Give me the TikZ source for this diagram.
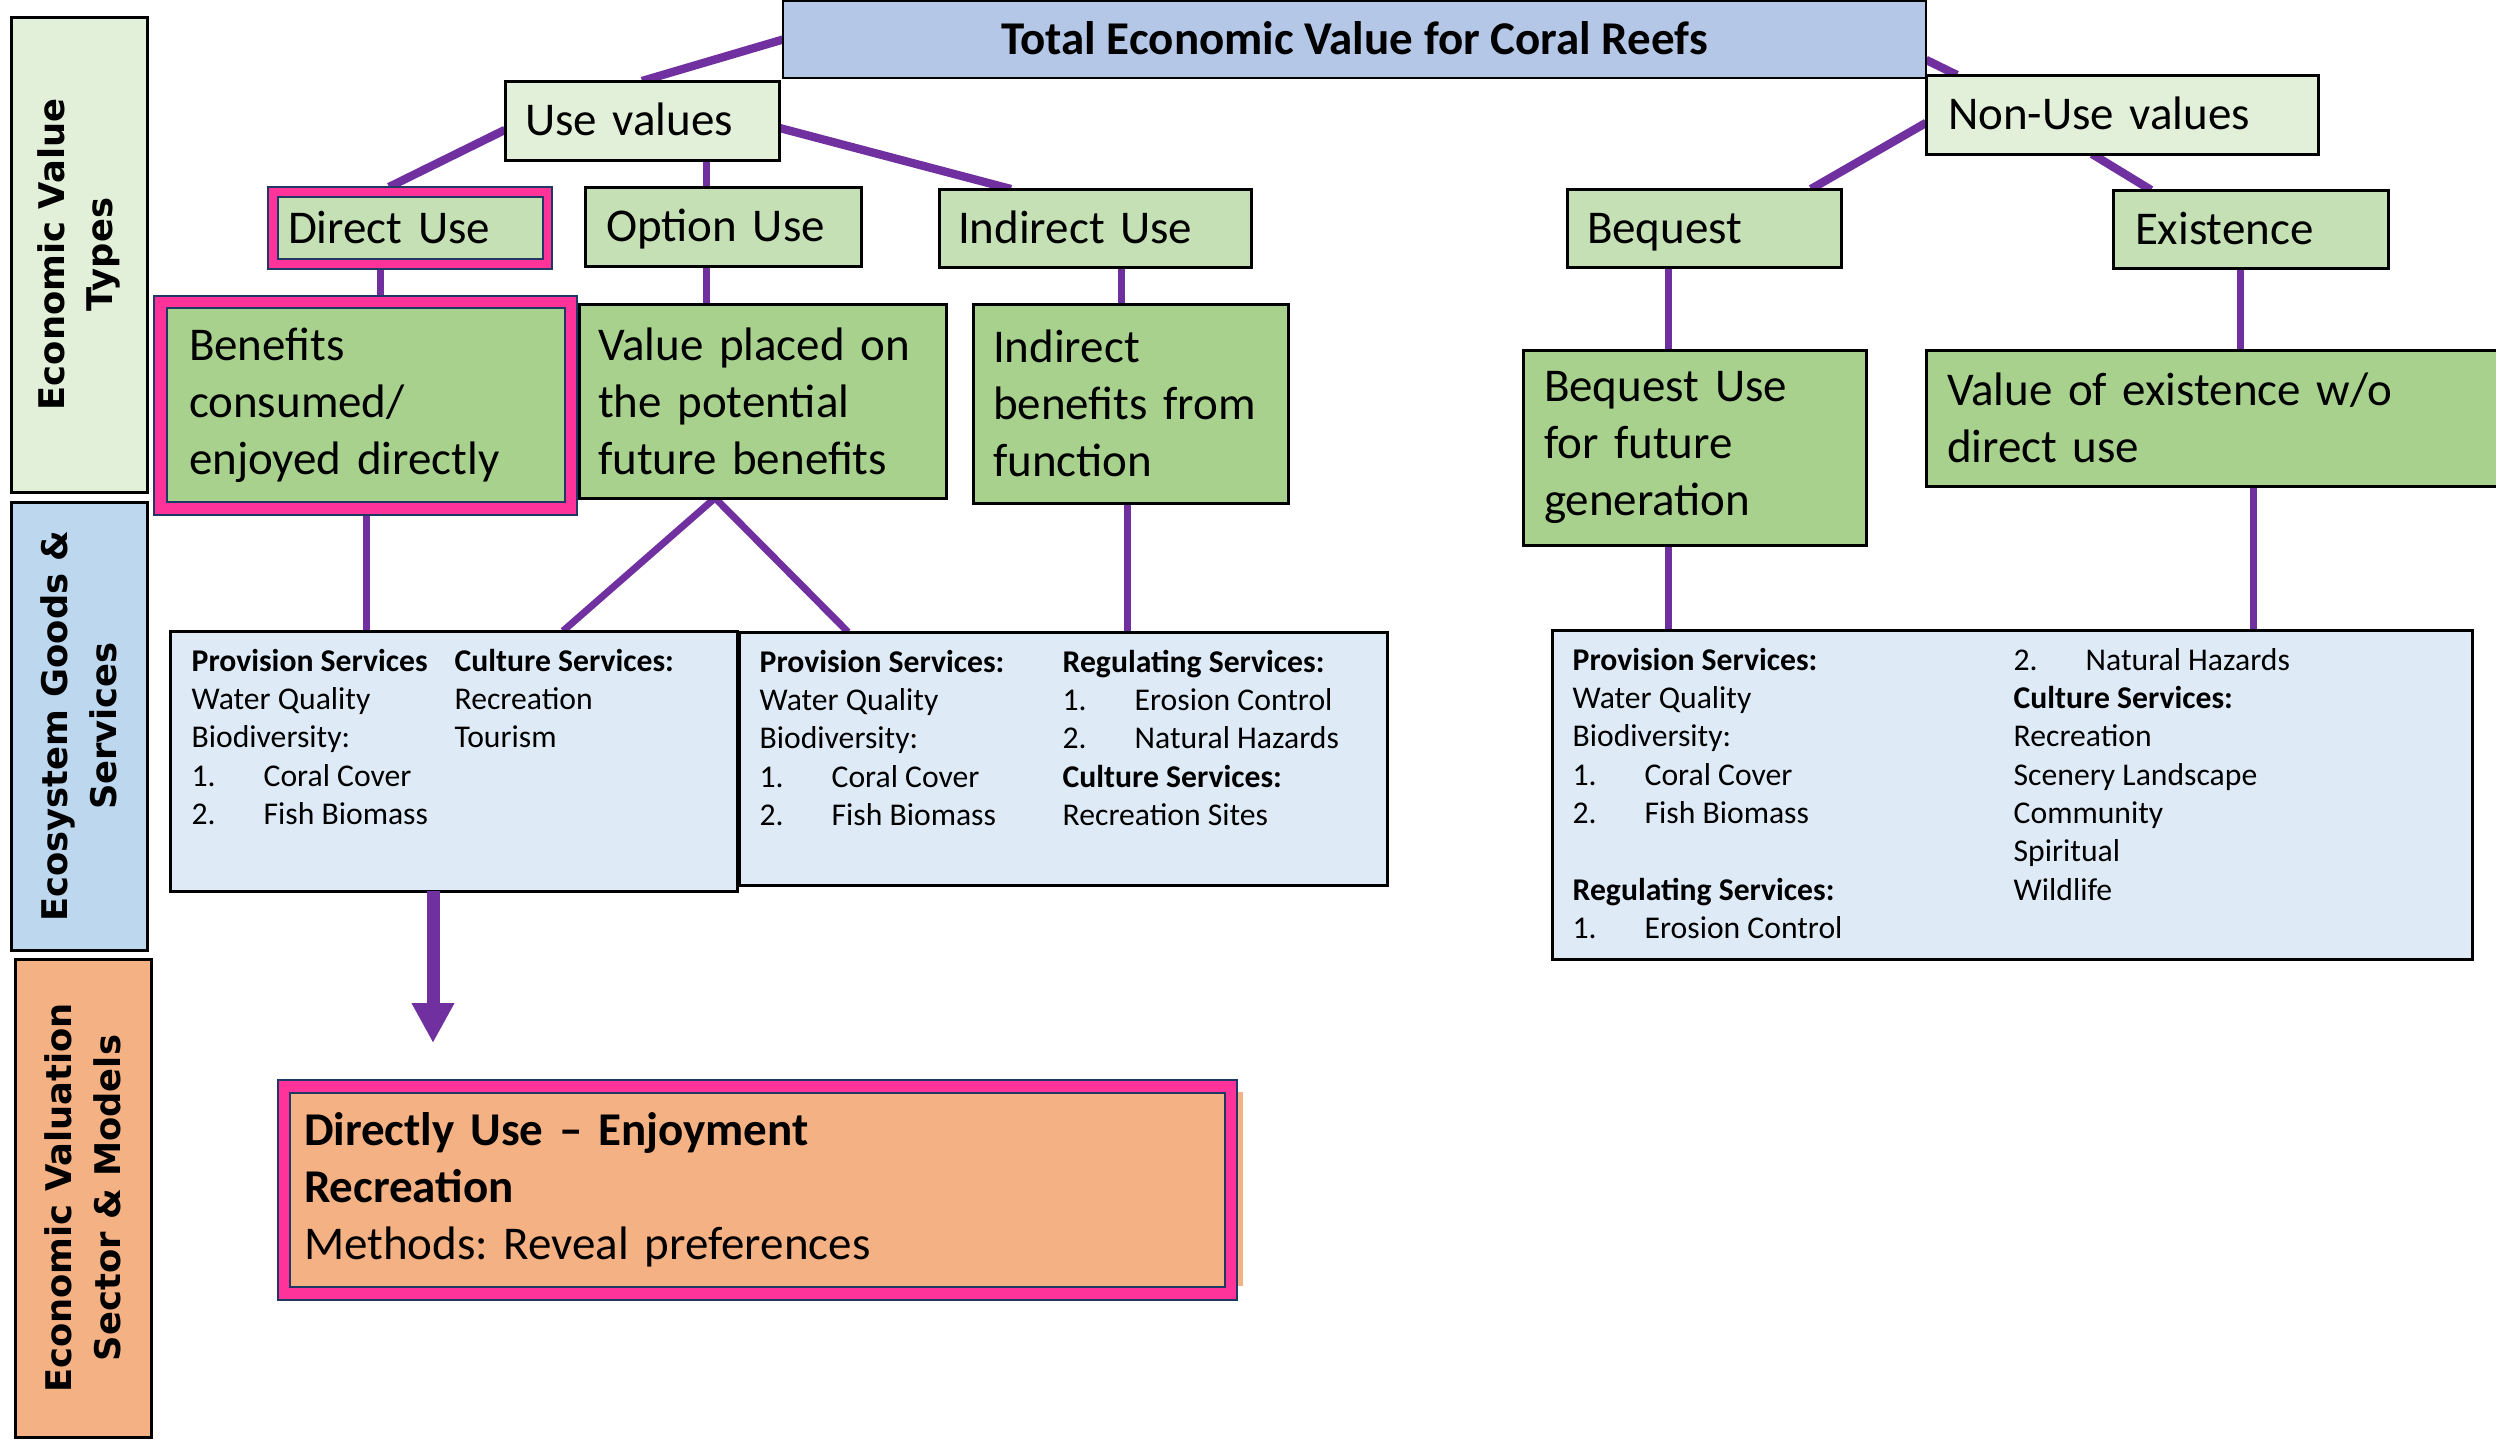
\documentclass[tikz,border=0pt]{standalone}
\usepackage{fontspec}
\setmainfont{Carlito}
\newfontfamily\sidefont{DejaVu Sans}
\usetikzlibrary{arrows.meta,backgrounds}
\definecolor{lg}{HTML}{E2F0D9}
\definecolor{mg}{HTML}{C5E0B4}
\definecolor{dg}{HTML}{A9D18E}
\definecolor{tevc}{HTML}{B4C7E7}
\definecolor{lb}{HTML}{DEEBF7}
\definecolor{sideb}{HTML}{BDD7EE}
\definecolor{org}{HTML}{F4B183}
\definecolor{purp}{HTML}{7030A0}
\definecolor{pinkc}{HTML}{FF3399}
\definecolor{navy}{HTML}{203864}
\newcommand\fbig{\fontsize{14.1}{17.1}\selectfont}
\newcommand\fsml{\fontsize{9.5}{11.5}\selectfont}
\newcommand\fside{\sidefont\bfseries\fontsize{10.6}{14.6}\selectfont}
\newcommand\numi[1]{\makebox[21.6pt][l]{#1}}
\newcommand\coltext[1]{\begin{tabular}[t]{@{}l@{}}#1\end{tabular}}
\frenchspacing
\begin{document}
\frenchspacing
\begin{tikzpicture}[x=0.3pt,y=-0.3pt,
  bx/.style={rectangle, draw=black, line width=0.9pt, anchor=north west, inner sep=0pt, outer sep=0pt, font=\fbig, align=left},
  sz/.style n args={4}{minimum width=#1pt, minimum height=#2pt, inner xsep=#3pt, text width=#4pt},
  one/.style={text height=9.1pt, text depth=0pt},
  pinkbox/.style={rectangle, fill=pinkc, draw=navy, line width=0.5pt, anchor=north west, inner sep=0pt, outer sep=0pt},
  inbox/.style={bx, draw=navy, line width=0.8pt},
  bluebox/.style={rectangle, fill=lb, draw=black, line width=0.9pt, anchor=north west, inner sep=0pt, outer sep=0pt},
  col/.style={anchor=base west, inner sep=0pt, font=\fsml},
  side/.style={rectangle, draw=black, line width=0.9pt, anchor=north west, inner sep=0pt, outer sep=0pt},
  sidetext/.style={rotate=90, font=\fside, align=center, inner sep=0pt},
  link/.style={draw=purp, line width=2.1pt},
  linkt/.style={draw=purp, line width=2.5pt},
  arr/.style={draw=purp, line width=3.9pt, -{Triangle[width=12pt,length=12pt]}}
]
\useasboundingbox (0,0) rectangle (2496,1440);

% side labels
\node[side, fill=lg, minimum width=40.8pt, minimum height=142.5pt] (s1) at (11,17) {};
\node[sidetext] (s1t) at (s1.center) {Economic Value\\Types};
\node[side, fill=sideb, minimum width=40.8pt, minimum height=134.4pt] (s2) at (11,502) {};
\node[sidetext] (s2t) at (s2.center) {Ecosystem Goods \&\\Services};
\node[side, fill=org, minimum width=40.8pt, minimum height=143.4pt] (s3) at (15,959) {};
\node[sidetext] (s3t) at (s3.center) {Economic Valuation\\Sector \& Models};

% top
\node[bx, fill=tevc, line width=0.7pt, minimum width=342.9pt, minimum height=23.1pt, align=center, one, font=\fbig\bfseries] (tev) at (783,1) {Total Economic Value for Coral Reefs};
\node[bx, fill=lg, sz={82.2}{23.7}{6}{70.2}, one] (use) at (505,81) {Use values};
\node[bx, fill=lg, sz={117.6}{23.7}{6.6}{104.4}, one] (nu) at (1926,75) {Non-Use values};

% level 2
\node[pinkbox, minimum width=85.2pt, minimum height=24.6pt] (duo) at (268,187) {};
\node[inbox, fill=mg, sz={79.5}{18.6}{3}{73.5}, one] (du) at (278,197) {Direct Use};
\node[bx, fill=mg, sz={82.8}{23.7}{6.3}{70.2}, one] (ou) at (585,187) {Option Use};
\node[bx, fill=mg, sz={93.6}{23.4}{5.7}{82.2}, one] (iu) at (939,189) {Indirect Use};
\node[bx, fill=mg, sz={82.2}{23.4}{6}{70.2}, one] (bq) at (1567,189) {Bequest};
\node[bx, fill=mg, sz={82.5}{23.4}{6.6}{69.3}, one] (ex) at (2113,190) {Existence};

% level 3
\node[pinkbox, minimum width=126.9pt, minimum height=65.7pt] (beo) at (154,296) {};
\node[inbox, fill=dg, sz={119.4}{58.2}{6.6}{106.2}] (be) at (167,308) {Benefits\\consumed/\\enjoyed directly};
\node[bx, fill=dg, sz={110.1}{58.2}{5.7}{98.7}] (vp) at (579,304) {Value placed on\\the potential\\future benefits};
\node[bx, fill=dg, sz={94.5}{59.7}{6}{82.5}] (ib) at (973,304) {Indirect\\benefits from\\function};
\node[bx, fill=dg, sz={102.9}{58.5}{6.3}{90.3}] (bu) at (1523,350) {Bequest Use\\for future\\generation};
\node[bx, fill=dg, sz={172.2}{40.8}{6.3}{159.6}] (ve) at (1926,350) {Value of existence w/o\\direct use};

% level 4
\node[bluebox, minimum width=170.1pt, minimum height=78pt] (b1) at (170,631) {};
\node[bluebox, minimum width=194.4pt, minimum height=75.9pt] (b2) at (739,632) {};
\node[bluebox, minimum width=276pt, minimum height=98.7pt] (b3) at (1552,630) {};

\node[col] (b1a) at (191,671) {\coltext{\textbf{Provision Services}\\Water Quality\\Biodiversity:\\\numi{1.}Coral Cover\\\numi{2.}Fish Biomass}};
\node[col] (b1b) at (454,671) {\coltext{\textbf{Culture Services:}\\Recreation\\Tourism}};
\node[col] (b2a) at (759,672) {\coltext{\textbf{Provision Services:}\\Water Quality\\Biodiversity:\\\numi{1.}Coral Cover\\\numi{2.}Fish Biomass}};
\node[col] (b2b) at (1062,672) {\coltext{\textbf{Regulating Services:}\\\numi{1.}Erosion Control\\\numi{2.}Natural Hazards\\\textbf{Culture Services:}\\Recreation Sites}};
\node[col] (b3a) at (1572,670) {\coltext{\textbf{Provision Services:}\\Water Quality\\Biodiversity:\\\numi{1.}Coral Cover\\\numi{2.}Fish Biomass\\{}\\\textbf{Regulating Services:}\\\numi{1.}Erosion Control}};
\node[col] (b3b) at (2013,670) {\coltext{\numi{2.}Natural Hazards\\\textbf{Culture Services:}\\Recreation\\Scenery Landscape\\Community\\Spiritual\\Wildlife}};

% bottom
\fill[org] (290,1092) rectangle (1243,1286);
\node[pinkbox, minimum width=287.7pt, minimum height=66pt] (dso) at (278,1080) {};
\node[inbox, fill=org, sz={280.5}{58.2}{4.2}{272.1}] (ds) at (290,1093) {\textbf{Directly Use – Enjoyment}\\\textbf{Recreation}\\Methods: Reveal preferences};

\coordinate (tip) at (433,1043);

\begin{pgfonlayer}{background}
\draw[linkt] (tev.west) -- (use.north);
\draw[linkt] ([yshift=-2.8pt]use.west) -- (389,0 |- duo.north);
\draw[link] (706,0 |- use.south) -- (706,0 |- ou.north);
\draw[linkt] ([yshift=-2.2pt]use.east) -- (1011,0 |- iu.north);
\draw[linkt] ([yshift=-6.1pt]tev.east) -- (1957,0 |- nu.north);
\draw[linkt] ([yshift=-2.5pt]nu.west) -- (1811,0 |- bq.north);
\draw[linkt] (2092,0 |- nu.south) -- (2151,0 |- ex.north);
\draw[link] (380,0 |- duo.south) -- (380,0 |- beo.north);
\draw[link] (706,0 |- ou.south) -- (706,0 |- vp.north);
\draw[link] (1121,0 |- iu.south) -- (1121,0 |- ib.north);
\draw[link] (1668,0 |- bq.south) -- (1668,0 |- bu.north);
\draw[link] (2240,0 |- ex.south) -- (2240,0 |- ve.north);
\draw[link] (366,0 |- beo.south) -- (366,0 |- b1.north);
\draw[link] (715,0 |- vp.south) -- (563,0 |- b1.north);
\draw[link] (715,0 |- vp.south) -- (848,0 |- b2.north);
\draw[link] (1127,0 |- ib.south) -- (1127,0 |- b2.north);
\draw[link] (1668,0 |- bu.south) -- (1668,0 |- b3.north);
\draw[link] (2253,0 |- ve.south) -- (2253,0 |- b3.north);
\end{pgfonlayer}
\draw[arr] (433,0 |- b1.south) -- (tip);
\end{tikzpicture}
\end{document}
